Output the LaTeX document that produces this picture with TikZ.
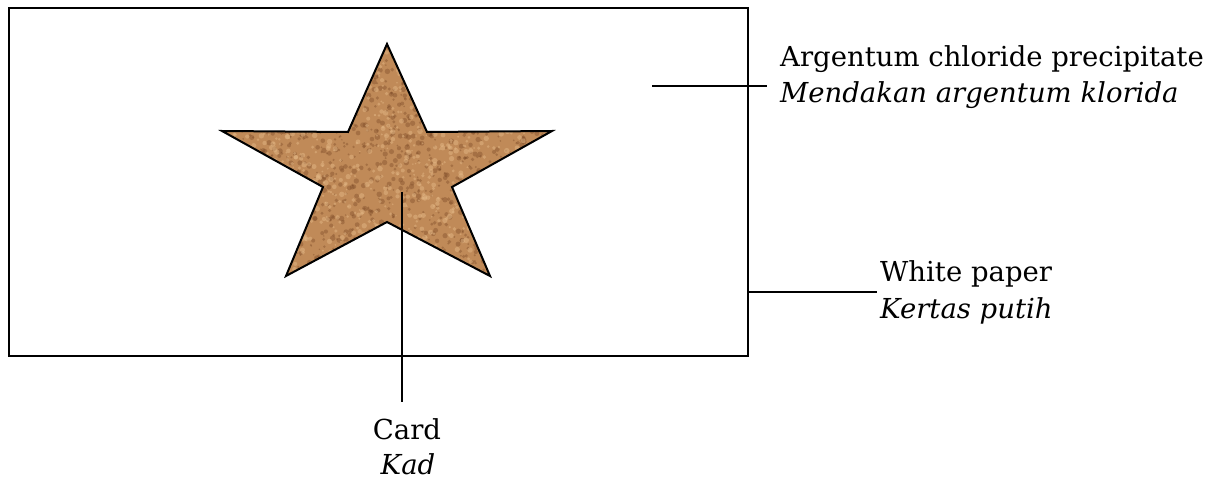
\documentclass[tikz,border=0pt]{standalone}
\usepackage{fontspec}
\setmainfont{DejaVu Serif}
\begin{document}
\begin{tikzpicture}[x=1pt,y=-1pt,
  lbl/.style={inner sep=0pt,anchor=base west,font=\fontsize{27.5}{36}\selectfont},
  lblc/.style={inner sep=0pt,anchor=base,font=\fontsize{27.5}{36}\selectfont},
  ln/.style={line width=2pt}]
\useasboundingbox (0,0) rectangle (1224,481);
\definecolor{cork}{RGB}{192,138,88}
\definecolor{corkdark}{RGB}{125,75,40}
\definecolor{corklight}{RGB}{226,182,132}
% paper
\draw[line width=2pt] (9,8) rectangle (748,356);
% star
\coordinate (s1) at (387,44);
\coordinate (s2) at (427,132);
\coordinate (s3) at (552,131);
\coordinate (s4) at (452,187);
\coordinate (s5) at (490,276);
\coordinate (s6) at (387,222);
\coordinate (s7) at (286,276);
\coordinate (s8) at (323,187);
\coordinate (s9) at (222,131);
\coordinate (s10) at (348,132);
\begin{scope}
\clip (s1)--(s2)--(s3)--(s4)--(s5)--(s6)--(s7)--(s8)--(s9)--(s10)--cycle;
\fill[cork] (200,40) rectangle (560,280);
\pgfmathsetseed{11}
\foreach \i in {1,...,1400}{
  \pgfmathsetmacro{\xx}{222+330*rnd}
  \pgfmathsetmacro{\yy}{44+232*rnd}
  \pgfmathsetmacro{\rr}{0.8+2.0*rnd}
  \fill[corkdark,opacity=0.4] (\xx,\yy) circle (\rr);
}
\foreach \i in {1,...,1200}{
  \pgfmathsetmacro{\xx}{222+330*rnd}
  \pgfmathsetmacro{\yy}{44+232*rnd}
  \pgfmathsetmacro{\rr}{0.8+2.0*rnd}
  \fill[corklight,opacity=0.5] (\xx,\yy) circle (\rr);
}
\end{scope}
\draw[line width=2pt,line join=miter] (s1)--(s2)--(s3)--(s4)--(s5)--(s6)--(s7)--(s8)--(s9)--(s10)--cycle;
% labels
\node[lbl] (arg1) at (780,67) {Argentum chloride precipitate};
\node[lbl] (arg2) at (780,103) {\itshape Mendakan argentum klorida};
\node[lbl] (wp1) at (880,282) {White paper};
\node[lbl] (wp2) at (880,318) {\itshape Kertas putih};
\node[lblc] (card1) at (407,439) {Card};
\node[lblc] (card2) at (408,474) {\itshape Kad};
% leaders
\coordinate (argend) at (652,86);
\coordinate (argtip) at (767,86);
\coordinate (wpend) at (748,292);
\coordinate (wptip) at (877,292);
\coordinate (cardtop) at (402,192);
\coordinate (cardtip) at (402,402);
\draw[ln] (argend) -- (argtip);
\draw[ln] (wpend) -- (wptip);
\draw[ln] (cardtop) -- (cardtip);
\end{tikzpicture}
\end{document}
